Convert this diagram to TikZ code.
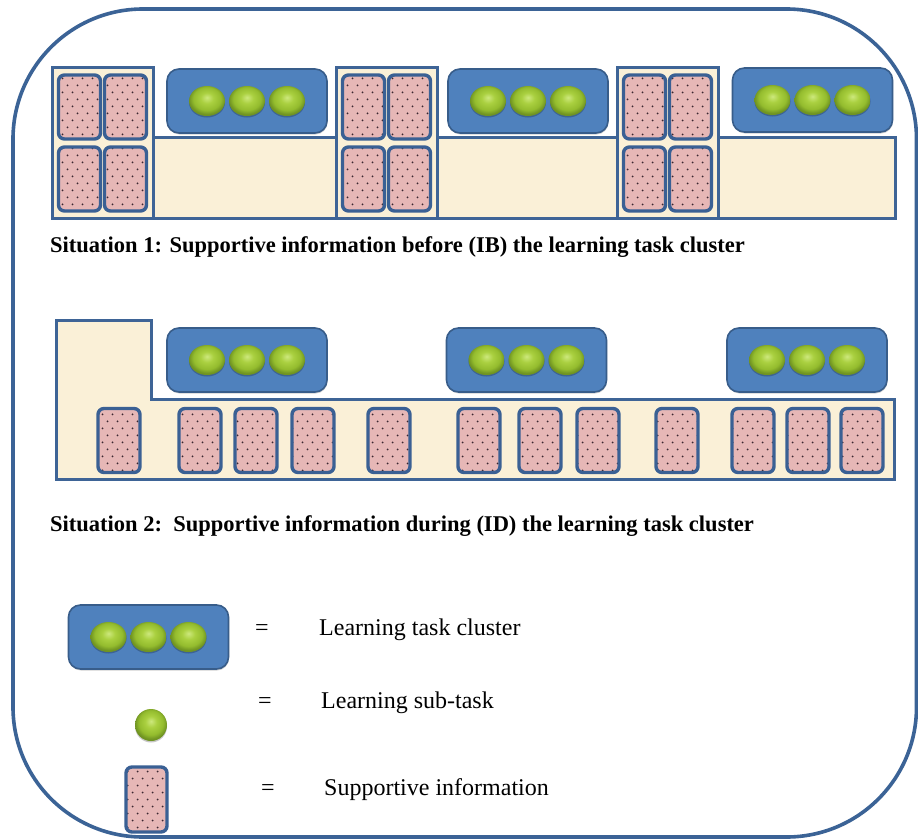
\documentclass[tikz,border=0pt]{standalone}
\usepackage{fontspec}
\setmainfont{Liberation Serif}
\usetikzlibrary{patterns,shapes.geometric,shadows}
\pgfdeclarepatternformonly{sidots}{\pgfpoint{-1pt}{-1pt}}{\pgfpoint{11pt}{15pt}}{\pgfpoint{10pt}{14pt}}{%
  \pgfpathcircle{\pgfpoint{2.5pt}{3.5pt}}{1pt}%
  \pgfpathcircle{\pgfpoint{7.5pt}{10.5pt}}{1pt}%
  \pgfusepath{fill}}
\definecolor{framecol}{RGB}{59,99,150}
\definecolor{clusterblue}{RGB}{79,129,189}
\definecolor{clusteredge}{RGB}{56,93,138}
\definecolor{beige}{RGB}{250,240,215}
\definecolor{stripedge}{RGB}{62,100,150}
\definecolor{cardpink}{RGB}{230,183,182}
\definecolor{cardedge}{RGB}{58,96,148}
\definecolor{dotcol}{RGB}{60,40,50}
\definecolor{greenhi}{RGB}{205,232,125}
\definecolor{greenmid}{RGB}{170,208,64}
\definecolor{greenout}{RGB}{148,188,46}
\definecolor{greenedge}{RGB}{112,148,34}
\pgfdeclareradialshading{bubsh}{\pgfpoint{0bp}{6bp}}{%
  color(0bp)=(greenhi); color(9bp)=(greenmid); color(19bp)=(greenout);
  color(25bp)=(greenedge); color(50bp)=(greenedge)}
\newcommand\clusterat[3]{%
  \node[cluster] (#1) at (#2,#3) {};
  \node[bubble] (#1-a) at ([xshift=-40pt]#1.center) {};
  \node[bubble] (#1-b) at (#1.center) {};
  \node[bubble] (#1-c) at ([xshift=40pt]#1.center) {};}
\begin{document}
\begin{tikzpicture}[x=1pt,y=-1pt,
  card/.style={rectangle, rounded corners=6pt, draw=cardedge, line width=3.4pt,
    preaction={fill=cardpink}, pattern=sidots, pattern color=dotcol,
    minimum width=42pt, minimum height=64pt, inner sep=0pt},
  cluster/.style={rectangle, rounded corners=12pt, draw=clusteredge, line width=1.6pt,
    fill=clusterblue, minimum width=160pt, minimum height=64pt, inner sep=0pt,
    general shadow={fill=black, opacity=0.18, shadow xshift=0.5pt, shadow yshift=-1.5pt}},
  bubble/.style={ellipse, minimum width=36pt, minimum height=30pt, inner sep=0pt,
    shading=bubsh,
    general shadow={fill=black, opacity=0.22, shadow yshift=-1.5pt}},
  beigebox/.style={rectangle, fill=beige, draw=stripedge, line width=3pt, inner sep=0pt},
  sit/.style={anchor=base west, inner sep=0pt, font=\bfseries\fontsize{22.5}{27}\selectfont},
  leg/.style={anchor=base west, inner sep=0pt, font=\fontsize{24}{29}\selectfont},
  eq/.style={anchor=base, inner sep=0pt, font=\fontsize{24}{29}\selectfont}]
\useasboundingbox (0,0) rectangle (918,838);
\fill[white] (0,0) rectangle (918,838);
% outer frame
\draw[line width=3.6pt, draw=framecol, rounded corners=130pt] (13,9) rectangle (916.5,837);

% ---------- Situation 1 ----------
\node[beigebox, minimum width=843pt, minimum height=81pt] (s1strip) at (473.5,177.5) {};
\foreach \gx [count=\g] in {102.5,386.5,667.5}{
  \node[beigebox, minimum width=101pt, minimum height=151pt] (g\g) at (\gx,142.5) {};
  \node[card] (g\g c1) at (\gx-23,107) {};
  \node[card] (g\g c2) at (\gx+23,107) {};
  \node[card] (g\g c3) at (\gx-23,179) {};
  \node[card] (g\g c4) at (\gx+23,179) {};
}
\clusterat{k1}{247}{101}
\clusterat{k2}{528}{101}
\clusterat{k3}{812.5}{100}
\node[sit] (sit1) at (50,252) {Situation 1: Supportive information before (IB) the learning task cluster};

% ---------- Situation 2 ----------
\draw[fill=beige, draw=stripedge, line width=3pt]
  (56,320) -- (151,320) -- (151,399) -- (894,399) -- (894,479) -- (56,479) -- cycle;
\foreach \x [count=\k] in {119,200,256,313,389,479,540,598,677,753,808,862}{
  \node[card] (r\k) at (\x,440.5) {};
}
\clusterat{m1}{247}{360}
\clusterat{m2}{526.5}{360}
\clusterat{m3}{807}{360}
\node[sit] (sit2) at (50,531) {Situation 2:\ \ Supportive information during (ID) the learning task cluster};

% ---------- Legend ----------
\clusterat{lk}{148.5}{637}
\node[ellipse, minimum width=32pt, minimum height=32pt, inner sep=0pt,
    shading=bubsh,
    general shadow={fill=black, opacity=0.22, shadow yshift=-1.5pt}] (lsub) at (151,725) {};
\node[card, minimum width=41pt, minimum height=65pt] (lsi) at (146.5,799.5) {};
\node[eq] (e1) at (262,635) {=};
\node[eq] (e2) at (265,708) {=};
\node[eq] (e3) at (268,795) {=};
\node[leg] (t1) at (319,635) {Learning task cluster};
\node[leg] (t2) at (321,708) {Learning sub-task};
\node[leg] (t3) at (324,795) {Supportive information};
\end{tikzpicture}
\end{document}
